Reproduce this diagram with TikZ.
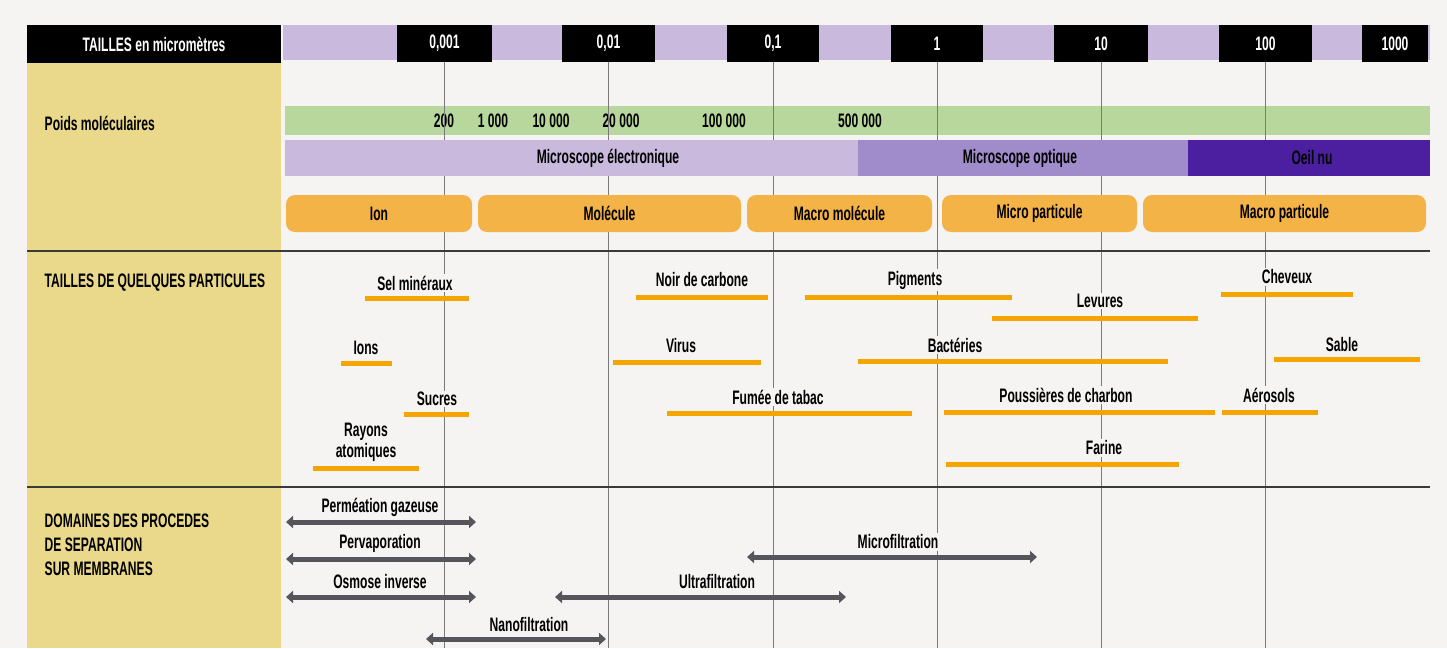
\documentclass[tikz,border=0pt]{standalone}
\usepackage{fontspec}
\setmainfont[FakeStretch=0.62]{Liberation Sans}
\usetikzlibrary{arrows.meta}
\definecolor{fond}{HTML}{F6F4F3}
\definecolor{jaune}{HTML}{EAD98B}
\definecolor{lavande}{HTML}{C9BADD}
\definecolor{vert}{HTML}{B7D79C}
\definecolor{mauve}{HTML}{A08CCA}
\definecolor{violet}{HTML}{4B1F9F}
\definecolor{orangeclair}{HTML}{F4B347}
\definecolor{orangevif}{HTML}{F5A500}
\definecolor{trait}{HTML}{7A7A7A}
\definecolor{sep}{HTML}{3A3A3A}
\definecolor{gris}{HTML}{55565B}

\begin{document}
\begin{tikzpicture}[x=1pt, y=-1pt,
    txt/.style={font=\fontsize{19.5}{21}\selectfont\bfseries, inner sep=1.5pt, align=center},
    tick/.style={fill=black, text=white, font=\fontsize{19.5}{21}\selectfont\bfseries, minimum height=37pt, inner sep=0pt},
    bande/.style={minimum height=36pt, inner sep=0pt},
    boite/.style={txt, fill=orangeclair, rounded corners=9pt, minimum height=37pt, inner sep=0pt},
    repere/.style={draw=trait, line width=0.8pt},
    separ/.style={draw=sep, line width=1.4pt},
    barre/.style={draw=orangevif, line width=5pt},
    etiq/.style={txt, fill=fond},
    fleche/.style={draw=gris, line width=5pt, {Triangle[length=7pt,width=12pt]}-{Triangle[length=7pt,width=12pt]}},
  ]%
  \useasboundingbox (0,0) rectangle (1447,648);
  \fill[fond] (0,0) rectangle (1447,648);
  \fill[jaune] (27,63) rectangle (281,648);
  \coordinate (bas) at (0,648);

  % echelle des tailles
  \node[tick, minimum width=254pt, minimum height=38pt] (titre) at (154,44) {TAILLES en micromètres};
  \node[bande, fill=lavande, minimum width=1147pt, minimum height=35pt] (bandeau) at (856.5,42.5) {};
  \foreach \val/\cx/\w [count=\i] in {0{,}001/444.5/95, 0{,}01/608.5/93, 0{,}1/773/92, 1/937/92, 10/1101/94, 100/1265.5/93, 1000/1395/66}{%
    \node[tick, minimum width=\w pt] (T-\i) at (\cx,43.5) {\val};
  }

  % poids moleculaires
  \node[txt, anchor=west] (pm) at (43,123) {Poids moléculaires};
  \node[bande, fill=vert, minimum width=1145pt, minimum height=29pt] (poids) at (857.5,120.5) {};
  \foreach \val/\cx [count=\i] in {200/444, 1 000/493, 10 000/551, 20 000/621, 100 000/724, 500 000/860}{%
    \node[txt] (N-\i) at (\cx,121) {\val};
  }

  \foreach \i in {1,...,6}{%
    \draw[repere] (T-\i.south) -- (T-\i.south |- bas);
  }

  % moyens d'observation
  \node[bande, fill=lavande, minimum width=573pt] (elec) at (571.5,158) {};
  \node[bande, fill=mauve, minimum width=330pt] (opt) at (1023,158) {};
  \node[bande, fill=violet, minimum width=242pt] (oeil) at (1309,158) {};
  \node[txt] at (608,158) {Microscope électronique};
  \node[txt] at (1020,158) {Microscope optique};
  \node[txt] at (1312,158) {Oeil nu};

  \foreach \txt/\cx/\w [count=\i] in {Ion/379/186, Molécule/609.5/263, Macro molécule/839.5/185, Micro particule/1039.5/195, Macro particule/1284.5/283}{%
    \node[boite, minimum width=\w pt] (B-\i) at (\cx,213.5) {\txt};
  }

  \draw[separ] (27,251) -- (1430,251);
  \draw[separ] (27,487) -- (1430,487);

  % particules
  \node[txt, anchor=west] (tp) at (43,283) {TAILLES DE QUELQUES PARTICULES};
  \foreach \nom/\lx/\ly/\xa/\xb/\yb [count=\i] in {%
      Sel minéraux/415/283/365/469/298,
      Ions/366/348/341/392/363,
      Sucres/437/399/404/469/414,
      Rayons\\atomiques/366/442/313/419/468,
      Noir de carbone/702/280/636/768/297,
      Virus/681/346/613/761/362,
      Fumée de tabac/778/397/667/912/413,
      Pigments/915/280/805/1012/297,
      Levures/1100/301/992/1198/318,
      Bactéries/955/345/858/1168/361,
      Poussières de charbon/1066/395/944/1215/412,
      Farine/1104/448/946/1179/464,
      Cheveux/1287/277/1221/1353/294,
      Sable/1342/345/1274/1420/359,
      Aérosols/1269/395/1222/1318/412}{%
    \node[etiq] (P-\i) at (\lx,\ly) {\nom};
    \coordinate (P-\i-a) at (\xa,\yb);
    \coordinate (P-\i-b) at (\xb,\yb);
    \draw[barre] (P-\i-a) -- (P-\i-b);
  }

  % procedes membranaires
  \node[txt, anchor=west, align=left, font=\fontsize{19.5}{24}\selectfont\bfseries] (dp) at (43,545) {DOMAINES DES PROCEDES\\DE SEPARATION\\SUR MEMBRANES};
  \foreach \nom/\lx/\ly/\xa/\xb/\yb [count=\i] in {%
      Perméation gazeuse/380/507/286/476/522,
      Pervaporation/380/543/286/476/559,
      Osmose inverse/380/582/286/476/597,
      Nanofiltration/529/625/426/606/639,
      Ultrafiltration/717/582/555/846/597,
      Microfiltration/898/542/747/1037/557}{%
    \node[etiq] (M-\i) at (\lx,\ly) {\nom};
    \coordinate (M-\i-a) at (\xa,\yb);
    \coordinate (M-\i-b) at (\xb,\yb);
    \draw[fleche] (M-\i-a) -- (M-\i-b);
  }
\end{tikzpicture}
\end{document}
